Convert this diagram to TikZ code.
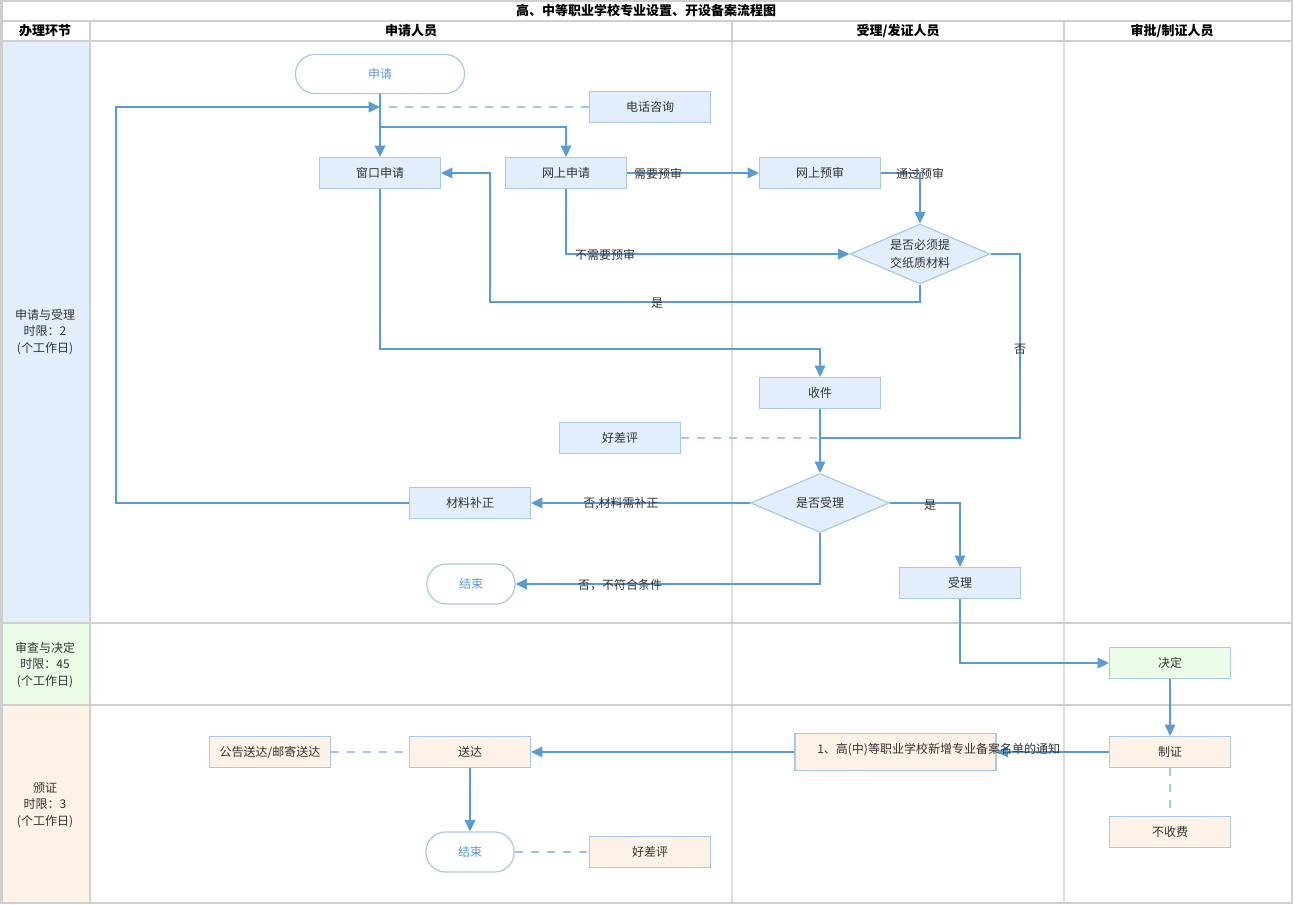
\documentclass[tikz,border=0pt]{standalone}
\usepackage{fontspec}
\setmainfont{Noto Sans CJK SC}
\usetikzlibrary{arrows.meta,shapes.geometric}
\definecolor{flow}{HTML}{5B9BD5}
\definecolor{dsh}{HTML}{A4C6EA}
\definecolor{bfill}{HTML}{E3EEFD}
\definecolor{bdraw}{HTML}{A9C8EE}
\definecolor{gfill}{HTML}{EBFCE7}
\definecolor{ofill}{HTML}{FEF2E7}
\definecolor{lblue}{HTML}{E3EEFC}
\definecolor{lgreen}{HTML}{EBFBE6}
\definecolor{lorange}{HTML}{FEF1E6}
\definecolor{gridc}{HTML}{CFCFCF}
\definecolor{gridl}{HTML}{DEDEDE}
\definecolor{txt}{HTML}{333333}
\begin{document}
\begin{tikzpicture}[x=0.75pt,y=-0.75pt,
  every node/.style={font=\fontsize{9}{12}\selectfont,text=txt},
  box/.style={draw=bdraw,line width=0.9pt,fill=bfill,minimum width=90.75pt,minimum height=23.25pt,inner sep=0pt},
  obox/.style={box,fill=ofill},
  gbox/.style={box,fill=gfill},
  pill/.style={draw=bdraw,line width=0.9pt,fill=white,rounded corners=14.5pt,minimum width=66pt,minimum height=30pt,inner sep=0pt,text=flow},
  dia/.style={draw=bdraw,line width=0.9pt,fill=bfill,diamond,inner sep=0pt},
  flowline/.style={draw=flow,line width=1.1pt},
  arr/.style={flowline,-{Triangle[length=8.5pt,width=8pt]}},
  dline/.style={draw=dsh,line width=1.1pt,dash pattern=on 6pt off 6pt},
  lbl/.style={inner sep=0pt,fill=none},
  hdr/.style={font=\fontsize{9.75}{12}\selectfont\bfseries,text=black},
  lane/.style={align=center,font=\fontsize{9}{12.5}\selectfont,text=txt}
]
\useasboundingbox (0,0) rectangle (1309,905);
\fill[white] (0,0) rectangle (1309,905);
% lane label fills
\fill[lblue] (2,41) rectangle (90,623);
\fill[lgreen] (2,623) rectangle (90,705);
\fill[lorange] (2,705) rectangle (90,903);
% grid
\draw[gridl,line width=1.5pt] (732,41) -- (732,903);
\draw[gridl,line width=1.5pt] (1064,41) -- (1064,903);
\draw[gridc,line width=1.5pt] (1.5,21) -- (1292,21);
\draw[gridc,line width=1.5pt] (1.5,41) -- (1292,41);
\draw[gridc,line width=1.5pt] (1.5,623) -- (1292,623);
\draw[gridc,line width=1.5pt] (1.5,705) -- (1292,705);
\draw[gridc,line width=1.5pt] (90,21) -- (90,903);
\draw[gridc,line width=1pt] (732,21) -- (732,41);
\draw[gridc,line width=1pt] (1064,21) -- (1064,41);
\draw[gridc,line width=1.5pt] (1.5,1.5) rectangle (1292,903);
% headers
\node[hdr] (title) at (646,11) {高、中等职业学校专业设置、开设备案流程图};
\node[hdr] (h0) at (45,31) {办理环节};
\node[hdr] (h1) at (411,31) {申请人员};
\node[hdr] (h2) at (898,31) {受理/发证人员};
\node[hdr] (h3) at (1172,31) {审批/制证人员};
\node[lane] (l1) at (45,332) {申请与受理\\时限：2\\(个工作日)};
\node[lane] (l2) at (45,665) {审查与决定\\时限：45\\(个工作日)};
\node[lane] (l3) at (45,805) {颁证\\时限：3\\(个工作日)};
% nodes
\node[pill,minimum width=126.75pt,minimum height=29.25pt] (sq) at (380,74) {申请};
\node[box] (dh) at (650,107) {电话咨询};
\node[box] (ck) at (380,173) {窗口申请};
\node[box] (ws) at (566,173) {网上申请};
\node[box] (ys) at (820,173) {网上预审};
\node[dia,minimum width=105pt,minimum height=45pt] (d1) at (920,254) {};
\node[align=center,font=\fontsize{9}{14}\selectfont] (d1t) at (d1) {是否必须提\\交纸质材料};
\node[box] (sj) at (820,393) {收件};
\node[box] (hp1) at (620,438) {好差评};
\node[dia,minimum width=104.25pt,minimum height=44.25pt] (d2) at (820,503) {};
\node (d2t) at (d2) {是否受理};
\node[box] (bz) at (470,503) {材料补正};
\node[pill] (e1) at (471,584) {结束};
\node[box] (sl) at (960,583) {受理};
\node[gbox] (jd) at (1170,663) {决定};
\node[obox] (zz) at (1170,752) {制证};
\node[obox] (bsf) at (1170,832) {不收费};
\node[obox,minimum width=150.75pt,minimum height=27.75pt] (tz) at (895.5,752) {};
\node[obox] (sd) at (470,752) {送达};
\node[obox] (gg) at (270,752) {公告送达/邮寄送达};
\node[pill] (e2) at (470,852) {结束};
\node[obox] (hp2) at (650,852) {好差评};
% junction coordinates
\coordinate (j0) at (380,107);
\coordinate (j1) at (380,127);
\coordinate (c3) at (490,302);
\coordinate (c4) at (1020,438);
\coordinate (j2) at (820,438);
\coordinate (j3) at (820,349);
\coordinate (c5) at (116,107);
% connectors
\draw[dline] (dh.west) -- (j0);
\draw[arr] (sq.south) -- (ck.north);
\draw[arr] (j1) -| (ws.north);
\draw[arr] (ws.east) -- (ys.west);
\draw[arr] (ys.east) -| (d1.north);
\draw[arr] (ws.south) |- (d1.west);
\draw[arr] (d1.south) |- (c3) |- (ck.east);
\draw[flowline] (d1.east) -| (c4) -- (j2);
\draw[arr] (ck.south) |- (j3) -- (sj.north);
\draw[arr] (sj.south) -- (d2.north);
\draw[dline] (hp1.east) -- (j2);
\draw[arr] (d2.west) -- (bz.east);
\draw[arr] (bz.west) -| (c5) -- (j0);
\draw[arr] (d2.south) |- (e1.east);
\draw[arr] (d2.east) -| (sl.north);
\draw[arr] (sl.south) |- (jd.west);
\draw[arr] (jd.south) -- (zz.north);
\draw[dline] (zz.south) -- (bsf.north);
\draw[arr] (zz.west) -- (tz.east);
\draw[arr] (tz.west) -- (sd.east);
\draw[dline] (gg.east) -- (sd.west);
\draw[arr] (sd.south) -- (e2.north);
\draw[dline] (e2.east) -- (hp2.west);
% connector labels
\node[lbl] (t1) at (658,174) {需要预审};
\node[lbl] (t2) at (920,174) {通过预审};
\node[lbl] (t3) at (605,255) {不需要预审};
\node[lbl] (t4) at (657,303) {是};
\node[lbl] (t5) at (1020,349) {否};
\node[lbl] (t6) at (621,504) {否,材料需补正};
\node[lbl] (t7) at (620,585) {否，不符合条件};
\node[lbl] (t8) at (930,505) {是};
\node[lbl,anchor=west] (t9) at (817,750) {1、高(中)等职业学校新增专业备案名单的通知};
\end{tikzpicture}
\end{document}
